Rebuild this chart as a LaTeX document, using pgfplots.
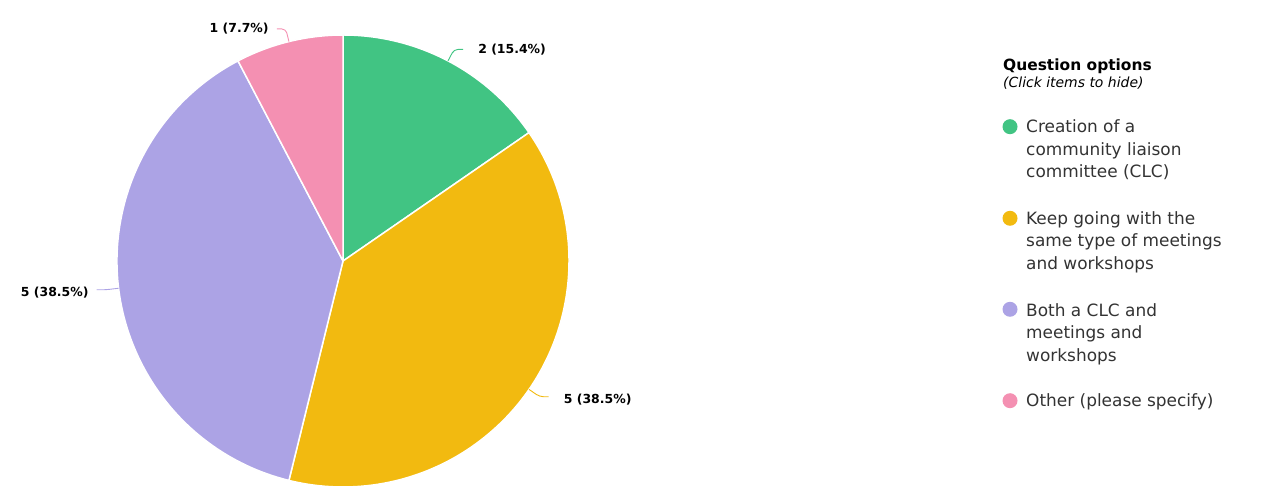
\documentclass[border=0pt]{standalone}
\usepackage{pgfplots}
\pgfplotsset{compat=1.18}
\usepackage{pgfplotstable}
\usepackage{fontspec}
\setmainfont{DejaVu Sans}

\definecolor{cgreen}{HTML}{41C483}
\definecolor{cyellow}{HTML}{F2BA10}
\definecolor{cpurple}{HTML}{ACA3E5}
\definecolor{cpink}{HTML}{F490B2}
\definecolor{txt}{HTML}{333333}

% responses per option
\pgfplotstableread{
count pct color
2 15.4 cgreen
5 38.5 cyellow
5 38.5 cpurple
1 7.7 cpink
}\piedata

% pie geometry in picture units (1 unit = 1bp)
\def\cx{343}
\def\cy{243}
\def\rr{226}

% slice angles, clockwise from 12 o'clock
\def\total{0}
\foreach \i in {0,1,2,3}{
  \pgfplotstablegetelem{\i}{count}\of\piedata
  \pgfmathsetmacro\t{\total+\pgfplotsretval}
  \xdef\total{\t}
}
\def\acc{90}
\foreach \i in {0,1,2,3}{
  \pgfplotstablegetelem{\i}{count}\of\piedata
  \pgfmathsetmacro\e{\acc-360*\pgfplotsretval/\total}
  \pgfmathsetmacro\m{(\acc+\e)/2}
  \pgfmathsetmacro\sx{\cx+\rr*cos(\acc)}
  \pgfmathsetmacro\sy{\cy+\rr*sin(\acc)}
  \pgfmathsetmacro\ax{\cx+\rr*cos(\m)}
  \pgfmathsetmacro\ay{\cy+\rr*sin(\m)}
  \pgfmathsetmacro\bx{\cx+(\rr+13)*cos(\m)}
  \pgfmathsetmacro\by{\cy+(\rr+13)*sin(\m)}
  \pgfmathsetmacro\sgn{cos(\m)>0 ? 1 : -1}
  \pgfmathsetmacro\gap{cos(\m)>0 ? 15 : 8}
  \pgfmathsetmacro\ly{sin(\m)>0 ? 0 : -3}
  \pgfmathsetmacro\dx{\bx+9*\sgn}
  \pgfplotstablegetelem{\i}{pct}\of\piedata
  \expandafter\xdef\csname pct\i\endcsname{\pgfplotsretval}
  \pgfplotstablegetelem{\i}{count}\of\piedata
  \expandafter\xdef\csname cnt\i\endcsname{\pgfplotsretval}
  \pgfplotstablegetelem{\i}{color}\of\piedata
  \expandafter\xdef\csname col\i\endcsname{\pgfplotsretval}
  \expandafter\xdef\csname s\i\endcsname{\acc}
  \expandafter\xdef\csname e\i\endcsname{\e}
  \expandafter\xdef\csname sx\i\endcsname{\sx}
  \expandafter\xdef\csname sy\i\endcsname{\sy}
  \expandafter\xdef\csname ax\i\endcsname{\ax}
  \expandafter\xdef\csname ay\i\endcsname{\ay}
  \expandafter\xdef\csname bx\i\endcsname{\bx}
  \expandafter\xdef\csname by\i\endcsname{\by}
  \expandafter\xdef\csname dx\i\endcsname{\dx}
  \expandafter\xdef\csname sg\i\endcsname{\sgn}
  \expandafter\xdef\csname gp\i\endcsname{\gap}
  \expandafter\xdef\csname ly\i\endcsname{\ly}
  \xdef\acc{\e}
}

\begin{document}
\begin{tikzpicture}
\begin{axis}[
    width=1279bp, height=504bp,
    scale only axis,
    xmin=0, xmax=1279, ymin=0, ymax=504,
    hide axis,
    clip=false,
  ]
  % keep the full canvas in the bounding box
  \path (axis cs:0,0) rectangle (axis cs:1279,504);

  \pgfplotsinvokeforeach{0,1,2,3}{
    \edef\tmp{%
      \noexpand\fill[\csname col#1\endcsname, draw=white, line width=1.5pt, line join=round]
        (axis cs:\cx,\cy) -- (axis cs:\csname sx#1\endcsname,\csname sy#1\endcsname)
        arc[start angle=\csname s#1\endcsname, end angle=\csname e#1\endcsname, radius=\rr bp] -- cycle;
      \noexpand\draw[\csname col#1\endcsname, line width=0.9pt, rounded corners=4bp]
        (axis cs:\csname ax#1\endcsname,\csname ay#1\endcsname)
        -- (axis cs:\csname bx#1\endcsname,\csname by#1\endcsname)
        -- (axis cs:\csname dx#1\endcsname,\csname by#1\endcsname);
    }\tmp
  }
  \pgfplotsinvokeforeach{0,1,2,3}{
    \edef\tmp{%
      \noexpand\node[font=\noexpand\bfseries\noexpand\fontsize{12.5}{14}\noexpand\selectfont,
        anchor=\noexpand\ifdim \csname sg#1\endcsname pt>0pt west\noexpand\else east\noexpand\fi,
        inner sep=0pt, xshift=\csname sg#1\endcsname*\csname gp#1\endcsname bp,
        yshift=\csname ly#1\endcsname bp]
        at (axis cs:\csname dx#1\endcsname,\csname by#1\endcsname)
        {\csname cnt#1\endcsname\space(\csname pct#1\endcsname\noexpand\%)};
    }\tmp
  }

  % legend (y = 504 - pixel row)
  \node[anchor=base west, inner sep=0pt, font=\bfseries\fontsize{15.5}{17}\selectfont]
    at (axis cs:1003,433.5) {Question options};
  \node[anchor=base west, inner sep=0pt, font=\itshape\fontsize{14}{15}\selectfont]
    at (axis cs:1003,416.5) {(Click items to hide)};
  \tikzset{legtxt/.style={anchor=base west, inner sep=0pt, text=txt,
    font=\fontsize{17}{20}\selectfont}}
  \fill[cgreen]  (axis cs:1010,377.3) circle[radius=7.5bp];
  \node[legtxt] at (axis cs:1026,371)   {Creation of a};
  \node[legtxt] at (axis cs:1026,348.5) {community liaison};
  \node[legtxt] at (axis cs:1026,326)   {committee (CLC)};
  \fill[cyellow] (axis cs:1010,285.7) circle[radius=7.5bp];
  \node[legtxt] at (axis cs:1026,279.5) {Keep going with the};
  \node[legtxt] at (axis cs:1026,257)   {same type of meetings};
  \node[legtxt] at (axis cs:1026,234.5) {and workshops};
  \fill[cpurple] (axis cs:1010,194.7) circle[radius=7.5bp];
  \node[legtxt] at (axis cs:1026,187.5) {Both a CLC and};
  \node[legtxt] at (axis cs:1026,165)   {meetings and};
  \node[legtxt] at (axis cs:1026,142.5) {workshops};
  \fill[cpink]   (axis cs:1010,103.3) circle[radius=7.5bp];
  \node[legtxt] at (axis cs:1026,97)    {Other (please specify)};
\end{axis}
\end{tikzpicture}
\end{document}
